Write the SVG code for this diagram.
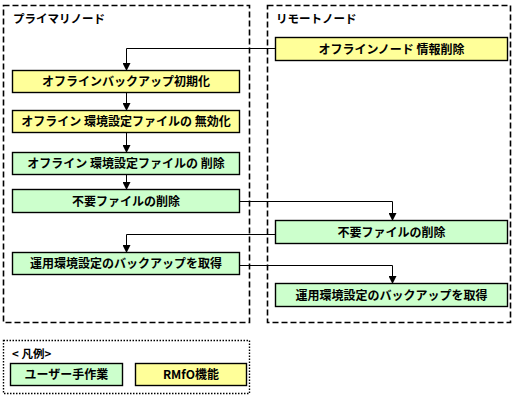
<svg xmlns="http://www.w3.org/2000/svg" width="521" height="401" viewBox="0 0 521 401">
<defs>
<marker id="ah" markerWidth="8" markerHeight="8" refX="7" refY="4" orient="auto" markerUnits="userSpaceOnUse">
<path d="M0,0 L8,4 L0,8 Z" fill="#000"/>
</marker>
<style>
text{font-family:"Noto Sans CJK JP","Noto Sans",sans-serif;font-weight:bold;font-size:11.5px;fill:#000}
.lane{fill:none;stroke:#000;stroke-width:1.6;stroke-dasharray:6,3}
.y{fill:#ffff99;stroke:#000;stroke-width:1.4}
.g{fill:#ccffcc;stroke:#000;stroke-width:1.4}
.c{fill:none;stroke:#000;stroke-width:1}
.m{text-anchor:middle;font-size:12px}
</style>
</defs>
<rect width="521" height="401" fill="#fff"/>
<g id="lane-primary">
<rect class="lane" x="3.5" y="5.5" width="246" height="317"/>
<text x="13" y="23">プライマリノード</text>
</g>
<g id="lane-remote">
<rect class="lane" x="267.5" y="5.5" width="243" height="317"/>
<text x="276" y="23">リモートノード</text>
</g>
<g id="connectors">
<path class="c" d="M275,48.5 H126.5 V70" marker-end="url(#ah)"/>
<path class="c" d="M126.5,92 V110" marker-end="url(#ah)"/>
<path class="c" d="M126.5,132 V152" marker-end="url(#ah)"/>
<path class="c" d="M126.5,174 V189" marker-end="url(#ah)"/>
<path class="c" d="M240,201.5 H392.5 V220" marker-end="url(#ah)"/>
<path class="c" d="M275,234.5 H126.5 V252" marker-end="url(#ah)"/>
<path class="c" d="M240,265.5 H392.5 V283" marker-end="url(#ah)"/>
</g>
<g id="n1"><rect class="y" x="12.5" y="70.5" width="227" height="22"/><text class="m" x="126" y="86">オフラインバックアップ初期化</text></g>
<g id="n2"><rect class="y" x="12.5" y="110.5" width="227" height="22"/><text class="m" x="126" y="126">オフライン 環境設定ファイルの 無効化</text></g>
<g id="n3"><rect class="g" x="12.5" y="152.5" width="227" height="22"/><text class="m" x="126" y="168">オフライン 環境設定ファイルの 削除</text></g>
<g id="n4"><rect class="g" x="12.5" y="189.5" width="227" height="23"/><text class="m" x="126" y="205.5">不要ファイルの削除</text></g>
<g id="n5"><rect class="g" x="12.5" y="252.5" width="227" height="22"/><text class="m" x="126" y="268">運用環境設定のバックアップを取得</text></g>
<g id="r1"><rect class="y" x="275.5" y="37.5" width="232" height="23"/><text class="m" x="391.5" y="53.5">オフラインノード 情報削除</text></g>
<g id="r2"><rect class="g" x="275.5" y="220.5" width="232" height="23"/><text class="m" x="391.5" y="236.5">不要ファイルの削除</text></g>
<g id="r3"><rect class="g" x="275.5" y="283.5" width="232" height="23"/><text class="m" x="391.5" y="299.5">運用環境設定のバックアップを取得</text></g>
<g id="legend">
<rect x="3.5" y="340.5" width="246" height="53" fill="none" stroke="#000" stroke-width="1.4" stroke-dasharray="1.5,1.5"/>
<text x="12" y="358">&lt; 凡例&gt;</text>
<rect class="g" x="10.5" y="363.5" width="112" height="22"/><text class="m" x="66.5" y="379">ユーザー手作業</text>
<rect class="y" x="135.5" y="363.5" width="111" height="22"/><text class="m" x="191" y="379">RMfO機能</text>
</g>
</svg>
